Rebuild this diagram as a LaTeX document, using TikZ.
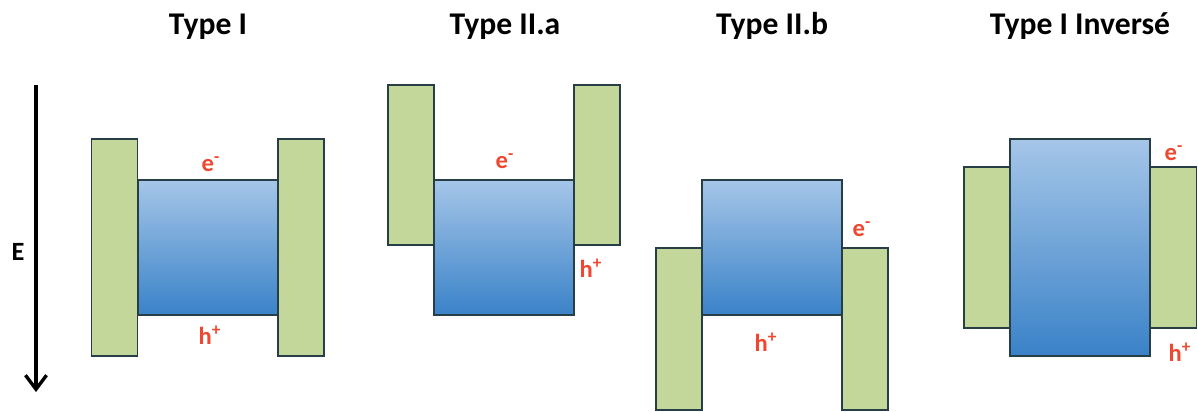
\documentclass[tikz,border=0pt]{standalone}
\usepackage{fontspec}
\setmainfont{Carlito}
\usetikzlibrary{arrows.meta,positioning}

\definecolor{barfill}{RGB}{196,215,155}
\definecolor{edgecol}{RGB}{40,62,70}
\definecolor{welltop}{RGB}{165,198,232}
\definecolor{wellbot}{RGB}{58,130,200}
\definecolor{carrier}{RGB}{240,72,48}

\tikzset{
  barrier/.style={draw=edgecol, line width=1pt, fill=barfill, inner sep=0pt,
    minimum width=0.92cm},
  well/.style={draw=edgecol, line width=1pt, top color=welltop, bottom color=wellbot,
    inner sep=0pt, minimum width=2.8cm},
  title/.style={font=\fontsize{18}{20}\selectfont\bfseries, anchor=base},
  carrierlbl/.style={font=\fontsize{14}{16}\selectfont\bfseries, text=carrier, inner sep=0pt},
  energy/.style={line width=1.9pt, -{Straight Barb[length=8pt,width=12pt,line width=1.9pt]}},
}

\begin{document}
\begin{tikzpicture}[x=0.02cm, y=-0.02cm]
\useasboundingbox (0,0) rectangle (1198,412);

% titles
\node[title] (tI)   at (208,35)  {Type I};
\node[title] (tIIa) at (505,35)  {Type II.a};
\node[title] (tIIb) at (772,35)  {Type II.b};
\node[title] (tInv) at (1080,35) {Type I Inversé};

% energy axis
\coordinate (Etop) at (36,85);
\coordinate (Ebot) at (36,392);
\draw[energy] (Etop) -- (Ebot);
\node[font=\fontsize{15}{17}\selectfont\bfseries] (E) at (18,252) {E};

% Type I
\node[barrier, minimum height=4.34cm] (gIl) at (114.5,247.5) {};
\node[barrier, minimum height=4.34cm] (gIr) at (301,247.5) {};
\node[well, minimum height=2.7cm] (bI) at (208,247.5) {};
\node[carrierlbl] (eI) at (211,164) {e\textsuperscript{-}};
\node[carrierlbl] (hI) at (210,335) {h\textsuperscript{+}};

% Type II.a
\node[barrier, minimum height=3.2cm] (gIIal) at (411,165) {};
\node[barrier, minimum height=3.2cm] (gIIar) at (597,165) {};
\node[well, minimum height=2.7cm] (bIIa) at (504,247.5) {};
\node[carrierlbl] (eIIa) at (505,161) {e\textsuperscript{-}};
\node[carrierlbl] (hIIa) at (591,268) {h\textsuperscript{+}};

% Type II.b
\node[barrier, minimum height=3.24cm] (gIIbl) at (679,329) {};
\node[barrier, minimum height=3.24cm] (gIIbr) at (865,329) {};
\node[well, minimum height=2.7cm] (bIIb) at (772,247.5) {};
\node[carrierlbl] (eIIb) at (862,229) {e\textsuperscript{-}};
\node[carrierlbl] (hIIb) at (766,342) {h\textsuperscript{+}};

% Type I inverse
\node[barrier, minimum height=3.22cm] (gInvl) at (987,247.5) {};
\node[barrier, minimum height=3.22cm] (gInvr) at (1173.5,247.5) {};
\node[well, minimum height=4.34cm] (bInv) at (1080,247.5) {};
\node[carrierlbl] (eInv) at (1174,153) {e\textsuperscript{-}};
\node[carrierlbl] (hInv) at (1180,352) {h\textsuperscript{+}};
\end{tikzpicture}
\end{document}
